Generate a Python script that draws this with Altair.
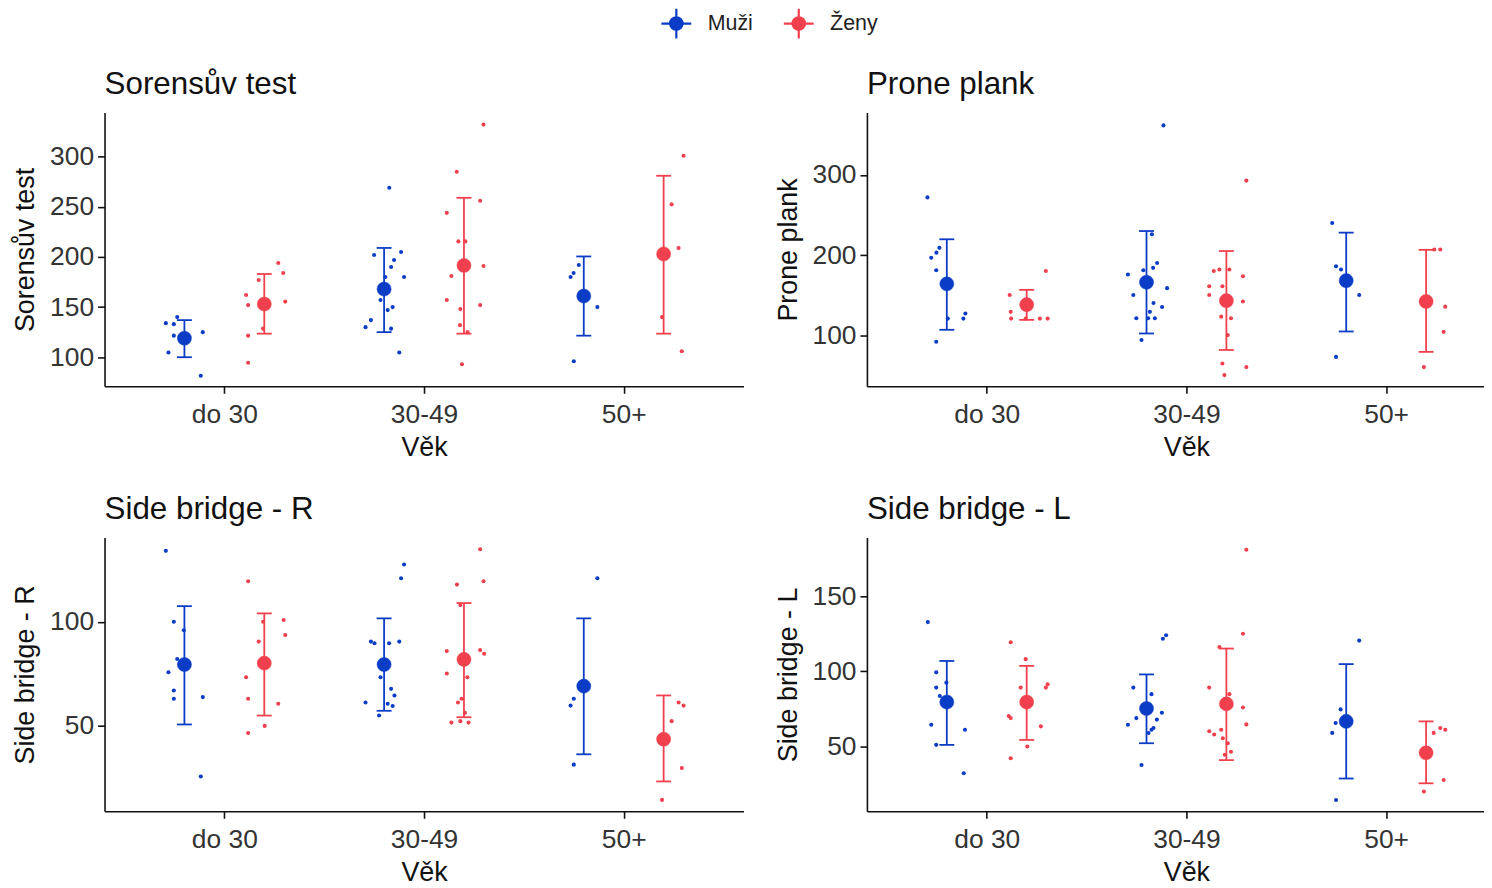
import altair as alt
import pandas as pd

AGES = ["do 30", "30-49", "50+"]
SEXES = ["Muži", "Ženy"]
COLORS = ["#0b3cc6", "#f1404d"]
X_TITLE = "Věk"

PANEL_TITLES = ["Sorensův test", "Prone plank", "Side bridge - R", "Side bridge - L"]

# summary rows: (age, sex, mean, lower, upper)
SOR_SUMMARY = [
    ("do 30", "Muži", 119, 100, 137),
    ("do 30", "Ženy", 153, 123.5, 183),
    ("30-49", "Muži", 168, 125, 209),
    ("30-49", "Ženy", 191.5, 123.5, 259),
    ("50+", "Muži", 161, 121.5, 200.5),
    ("50+", "Ženy", 203, 123.5, 281),
]
PRONE_SUMMARY = [
    ("do 30", "Muži", 164, 106.6, 219.7),
    ("do 30", "Ženy", 138, 119, 156.5),
    ("30-49", "Muži", 166, 102, 230),
    ("30-49", "Ženy", 143, 81.4, 205),
    ("50+", "Muži", 168, 104.5, 228),
    ("50+", "Ženy", 142, 79, 206.5),
]
SBR_SUMMARY = [
    ("do 30", "Muži", 79.3, 50.4, 107.5),
    ("do 30", "Ženy", 80, 54.7, 104),
    ("30-49", "Muži", 79.3, 57, 101.6),
    ("30-49", "Ženy", 81.8, 53.9, 109),
    ("50+", "Muži", 68.9, 36, 101.6),
    ("50+", "Ženy", 43.3, 22.9, 64.4),
]
SBL_SUMMARY = [
    ("do 30", "Muži", 79.5, 50.9, 107),
    ("do 30", "Ženy", 79.5, 54.2, 103.7),
    ("30-49", "Muži", 75.2, 52, 98),
    ("30-49", "Ženy", 78.3, 40.7, 115.3),
    ("50+", "Muži", 66.6, 28.4, 104.9),
    ("50+", "Ženy", 45.6, 25.2, 66.6),
]

# individual observations: (age, sex, [(jitter, value), ...])
SOR_POINTS = [
    ("do 30", "Muži", [(-0.093, 134), (-0.053, 133), (-0.036, 140), (-0.053, 121.5),
                       (-0.080, 104.7), (0.092, 125), (0.082, 81.5)]),
    ("do 30", "Ženy", [(-0.091, 162), (-0.081, 152), (-0.028, 177), (0.070, 194), (0.095, 184),
                       (0.105, 155.5), (-0.081, 121.5), (-0.006, 128.5), (-0.081, 94.5)]),
    ("30-49", "Muži", [(0.026, 269), (-0.05, 202), (0.085, 205), (0.05, 197), (0.035, 190),
                       (0.10, 180), (0.006, 180), (-0.018, 157), (0.018, 147), (0.043, 150),
                       (-0.066, 137), (-0.093, 130), (0.035, 128.5), (0.076, 104.7)]),
    ("30-49", "Ženy", [(0.098, 332), (-0.036, 285), (0.081, 256), (-0.086, 244), (-0.028, 215.5),
                       (0.007, 215.5), (-0.063, 181), (0.098, 191), (-0.086, 157), (0.081, 152),
                       (-0.018, 148), (-0.02, 132), (0.018, 125), (-0.01, 93)]),
    ("50+", "Muži", [(-0.025, 192), (-0.051, 184), (-0.066, 180), (0.068, 150), (-0.05, 96)]),
    ("50+", "Ženy", [(0.10, 301), (0.04, 252.5), (0.075, 209), (-0.008, 140), (0.091, 106)]),
]
PRONE_POINTS = [
    ("do 30", "Muži", [(-0.097, 272), (-0.037, 209), (-0.052, 203), (-0.078, 196.6), (-0.053, 181),
                       (0.005, 120.6), (0.083, 120.6), (0.093, 127), (-0.053, 91.7)]),
    ("do 30", "Ženy", [(-0.085, 150), (0.096, 180), (-0.080, 129), (-0.078, 120.6), (0.066, 120.6),
                       (0.105, 120.6), (-0.005, 120.6)]),
    ("30-49", "Muži", [(0.085, 362), (0.027, 226), (-0.093, 175.6), (-0.016, 181), (0.033, 184),
                       (0.053, 190), (0.103, 158.6), (-0.066, 150), (0.035, 140), (0.017, 129),
                       (0.078, 135), (-0.051, 121), (0.008, 121), (0.042, 121), (-0.025, 93.8)]),
    ("30-49", "Ženy", [(0.10, 293), (-0.063, 180), (-0.035, 182), (0.015, 182), (0.083, 173.5),
                       (-0.086, 161), (-0.02, 161), (-0.086, 150), (0.083, 142), (-0.026, 123),
                       (0.023, 121), (0.007, 100), (-0.02, 64.4), (0.10, 60), (-0.01, 50)]),
    ("50+", "Muži", [(-0.07, 240), (-0.051, 186), (-0.026, 182), (0.065, 150), (-0.051, 72.7)]),
    ("50+", "Ženy", [(0.041, 207), (0.071, 207), (0.096, 135.5), (0.088, 104), (-0.011, 60)]),
]
SBR_POINTS = [
    ("do 30", "Muži", [(-0.093, 134.2), (-0.053, 100), (-0.003, 95.9), (-0.036, 82), (-0.08, 75.6),
                       (-0.053, 66.8), (-0.053, 62.8), (0.092, 63.6), (0.082, 25.3)]),
    ("do 30", "Ženy", [(-0.081, 119.5), (-0.006, 100), (0.097, 100.8), (0.105, 93.6), (-0.028, 90.4),
                       (-0.091, 73.2), (-0.081, 62.8), (0.070, 60.4), (0.002, 49.7), (-0.081, 46.3)]),
    ("30-49", "Muži", [(0.10, 127.6), (0.085, 121), (-0.066, 90.4), (-0.048, 89.6), (0.025, 89.6),
                       (0.076, 90.4), (-0.018, 73.2), (0.035, 67.6), (0.052, 64.4), (0.018, 60.4),
                       (0.043, 59.3), (-0.093, 61), (-0.025, 54.7)]),
    ("30-49", "Ženy", [(0.081, 135), (-0.035, 117.9), (0.098, 119.5), (-0.018, 108), (-0.086, 85.8),
                       (0.081, 86.3), (0.101, 84.5), (-0.086, 75), (0.017, 73.2), (-0.012, 62.8),
                       (-0.03, 61), (-0.063, 51.3), (-0.018, 52), (0.023, 51.3), (0.005, 56)]),
    ("50+", "Muži", [(0.068, 121), (-0.05, 62.8), (-0.066, 59.5), (-0.05, 31)]),
    ("50+", "Ženy", [(0.075, 61), (0.10, 59.5), (0.04, 52), (0.091, 29.4), (-0.008, 14)]),
]
SBL_POINTS = [
    ("do 30", "Muži", [(-0.095, 133), (-0.053, 99.4), (-0.002, 92.5), (-0.053, 89.2), (-0.035, 83.6),
                       (-0.078, 64.4), (0.091, 61), (-0.053, 50.9), (0.085, 31.9)]),
    ("do 30", "Ženy", [(-0.08, 119.5), (-0.005, 108.2), (-0.03, 89.2), (0.096, 89.2), (0.105, 91.4),
                       (-0.09, 70.2), (-0.08, 68.8), (0.071, 63.3), (0.003, 49.8), (-0.08, 42)]),
    ("30-49", "Muži", [(0.082, 121.9), (0.098, 124.2), (-0.066, 89.2), (0.025, 84.8), (-0.051, 68.8),
                       (-0.093, 64.4), (0.077, 72.4), (0.052, 67.8), (0.035, 62.2), (0.025, 61),
                       (0.01, 58.8), (-0.025, 37.4)]),
    ("30-49", "Ženy", [(0.10, 181.4), (0.083, 125.2), (-0.035, 116.3), (-0.086, 89.2), (0.015, 84.8),
                       (0.083, 75.9), (0.10, 64.6), (-0.086, 60), (-0.061, 57.8), (-0.026, 61),
                       (-0.018, 55.3), (0.007, 52), (-0.008, 44.3), (0.023, 46.3)]),
    ("50+", "Muži", [(0.065, 120.6), (-0.028, 74.6), (-0.053, 65.5), (-0.07, 58.9), (-0.051, 14)]),
    ("50+", "Ženy", [(0.071, 62.2), (0.096, 61), (0.038, 58.9), (0.088, 27.4), (-0.011, 19.7)]),
]

Y_DOMAINS = [[71, 344], [36, 378], [8.5, 140.6], [6.5, 189.5]]
Y_TICKS = [[100, 150, 200, 250, 300], [100, 200, 300], [50, 100], [50, 100, 150]]

FONT = "Liberation Sans"
DODGE = 0.2
XPOS = "indexof({ages}, datum.age) + 1 + (datum.sex == '{m}' ? -{d} : {d})".format(
    ages=str(AGES), m=SEXES[0], d=DODGE)

LEGEND = alt.Legend(
    title=None, orient="none", direction="horizontal",
    legendX=558, legendY=-106, padding=0,
    symbolType="M-1,0H1M0,-1V1M-0.42,0A0.42,0.42,0,1,1,0.42,0A0.42,0.42,0,1,1,-0.42,0Z",
    symbolSize=900, symbolStrokeWidth=2.2, symbolOpacity=1,
    labelFontSize=21.5, labelFont=FONT, labelColor="#222", labelOffset=15,
    columnPadding=26,
)
COLOR_SCALE = alt.Scale(domain=SEXES, range=COLORS)


def make_panel(title, summary, points, ydom, yticks, right):
    pts = pd.DataFrame([(a, s, j, v) for a, s, lst in points for j, v in lst],
                       columns=["age", "sex", "jit", "value"])
    sm = pd.DataFrame(summary, columns=["age", "sex", "mean", "lo", "hi"])
    xdom = [0.4, 3.49] if right else [0.4, 3.6]
    width = 620 if right else 642
    xaxis = alt.Axis(values=[1, 2, 3],
                     labelExpr=f"{AGES}[datum.value - 1]",
                     title=X_TITLE, titleX=321, grid=False)
    yaxis = alt.Axis(values=yticks, title=title, grid=False)
    xs = alt.Scale(domain=xdom, nice=False, zero=False)
    ys = alt.Scale(domain=ydom, nice=False, zero=False)
    col = alt.Color("sex:N", scale=COLOR_SCALE, legend=LEGEND)
    stk = alt.Stroke("sex:N", scale=COLOR_SCALE, legend=LEGEND)

    base_pts = alt.Chart(pts).transform_calculate(xpos=XPOS + " + datum.jit")
    dots = base_pts.mark_circle(size=17, opacity=1).encode(
        x=alt.X("xpos:Q", scale=xs, axis=xaxis),
        y=alt.Y("value:Q", scale=ys, axis=yaxis),
        color=col,
    )
    base_sm = alt.Chart(sm).transform_calculate(xpos=XPOS)
    bars = base_sm.mark_rule(strokeWidth=1.8).encode(
        x="xpos:Q", y="lo:Q", y2="hi:Q", color=col)
    cap_lo = base_sm.mark_tick(orient="horizontal", size=15, thickness=1.8, opacity=1).encode(
        x="xpos:Q", y="lo:Q", color=col)
    cap_hi = base_sm.mark_tick(orient="horizontal", size=15, thickness=1.8, opacity=1).encode(
        x="xpos:Q", y="hi:Q", color=col)
    means = base_sm.mark_circle(size=200, opacity=1, strokeWidth=0.5).encode(
        x="xpos:Q", y="mean:Q", color=col, stroke=stk)
    return alt.layer(dots, bars, cap_lo, cap_hi, means).properties(
        width=width, height=275,
        title=alt.TitleParams(title, anchor="start", frame="group", fontSize=31.5, font=FONT,
                              fontWeight="normal", color="#111", offset=12),
    )


panels = [
    make_panel(PANEL_TITLES[0], SOR_SUMMARY, SOR_POINTS, Y_DOMAINS[0], Y_TICKS[0], False),
    make_panel(PANEL_TITLES[1], PRONE_SUMMARY, PRONE_POINTS, Y_DOMAINS[1], Y_TICKS[1], True),
    make_panel(PANEL_TITLES[2], SBR_SUMMARY, SBR_POINTS, Y_DOMAINS[2], Y_TICKS[2], False),
    make_panel(PANEL_TITLES[3], SBL_SUMMARY, SBL_POINTS, Y_DOMAINS[3], Y_TICKS[3], True),
]

chart = alt.concat(*panels, columns=2, spacing={"row": 33, "column": 30}).resolve_scale(
    x="independent", y="independent", color="shared", stroke="shared"
).resolve_axis(x="independent", y="independent").resolve_legend(
    color="shared", stroke="shared"
).properties(
    padding={"left": 3, "top": -3, "right": 0, "bottom": 0}
).configure_view(stroke=None).configure_axis(
    labelFont=FONT, titleFont=FONT, labelFontSize=26.5, titleFontSize=27,
    labelColor="#333", titleColor="#111", titleFontWeight="normal",
    domainColor="#111", domainWidth=1.6, tickColor="#111", tickWidth=1.6, tickSize=7,
    labelPadding=4,
).configure_axisY(titlePadding=10).configure_axisX(titlePadding=7, labelPadding=8)

chart.save("out.html", embed_options={"renderer": "svg", "actions": False})
